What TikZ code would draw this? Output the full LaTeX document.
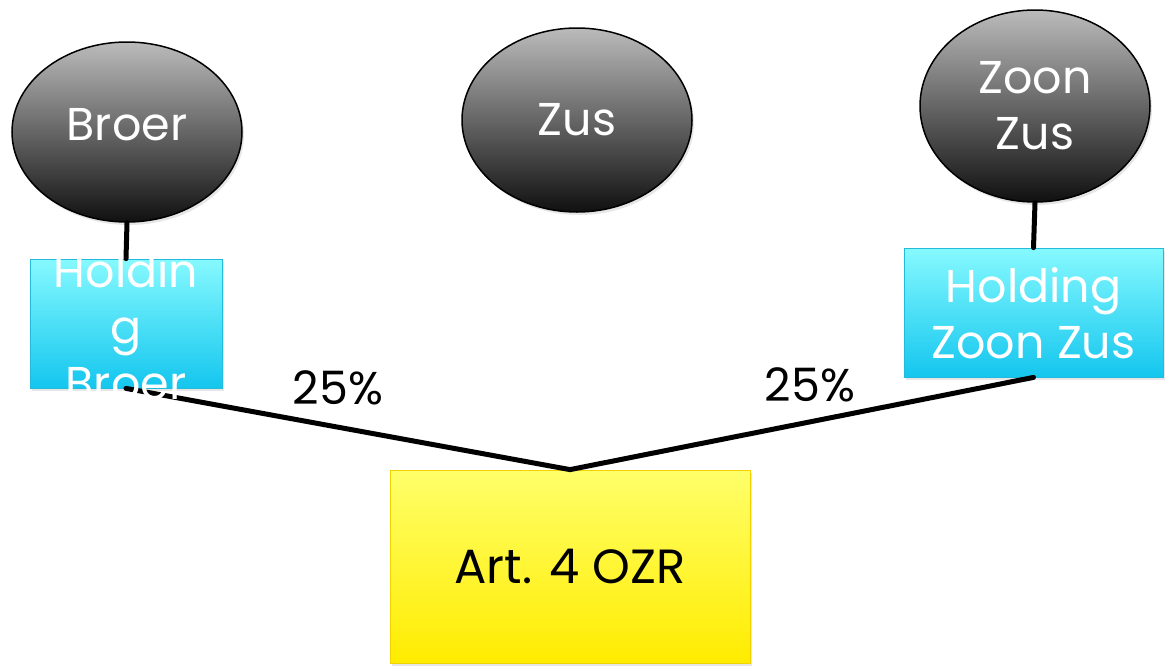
\documentclass[tikz,border=0pt]{standalone}
\usepackage{fontspec}
\setmainfont{Poppins}
\usetikzlibrary{shapes.geometric,shadows}
\definecolor{greytop}{HTML}{BBBBBB}
\definecolor{greybot}{HTML}{101010}
\definecolor{cyantop}{HTML}{86F9FF}
\definecolor{cyanbot}{HTML}{14C6EE}
\definecolor{cyanline}{HTML}{22BBDD}
\definecolor{yeltop}{HTML}{FFFF6A}
\definecolor{yelbot}{HTML}{FFEC00}
\definecolor{yelline}{HTML}{F2D200}
\begin{document}
\begin{tikzpicture}[x=1pt,y=-1pt,
  person/.style={ellipse,draw=black,line width=1.5pt,top color=greytop,bottom color=greybot,
     minimum width=230pt,text=white,font=\fontsize{46}{56}\selectfont,align=center,
     drop shadow={opacity=0.2,shadow xshift=2pt,shadow yshift=-3pt}},
  holdbox/.style={rectangle,draw=cyanline,line width=0.8pt,top color=cyantop,bottom color=cyanbot,
     drop shadow={opacity=0.2,shadow xshift=2pt,shadow yshift=-3pt}},
  holdtext/.style={text=white,font=\fontsize{46}{56}\selectfont,align=center},
  artbox/.style={rectangle,draw=yelline,line width=0.8pt,top color=yeltop,bottom color=yelbot,
     font=\fontsize{48}{56}\selectfont,
     drop shadow={opacity=0.2,shadow xshift=2pt,shadow yshift=-3pt}},
  link/.style={line width=5pt,line cap=round,line join=miter},
  pct/.style={font=\fontsize{46}{52}\selectfont}]
\useasboundingbox (0,0) rectangle (1165,665);
% persons
\node[person,minimum height=180pt] (broer) at (127,132) {};
\node[text=white,font=\fontsize{46}{56}\selectfont] (broert) at (127,125) {Broer};
\node[person,minimum height=184pt] (zus) at (577,120) {Zus};
\node[person,minimum height=192pt] (zoon) at (1035,106) {Zoon\\Zus};
% holdings
\node[holdbox,minimum width=192pt,minimum height=129pt] (hb) at (126,323.5) {};
\node[holdbox,minimum width=259pt,minimum height=129pt] (hz) at (1033.5,312.5) {};
% company
\node[artbox,minimum width=360pt,minimum height=193pt] (art) at (570,566.5) {Art. 4 OZR};
% connectors
\draw[link] (broer.south) -- (hb.north);
\draw[link] (zoon.south) -- (hz.north);
\draw[link] (hb.south) -- (art.north) -- (hz.south);
% texts on top
\node[holdtext] (hbt) at (126,326) {Holdin\\g\\Broer};
\node[holdtext] (hzt) at (1033.5,313) {Holding\\Zoon Zus};
% labels
\node[pct] (p1) at (338,388) {25\%};
\node[pct] (p2) at (810,385) {25\%};
\end{tikzpicture}
\end{document}
